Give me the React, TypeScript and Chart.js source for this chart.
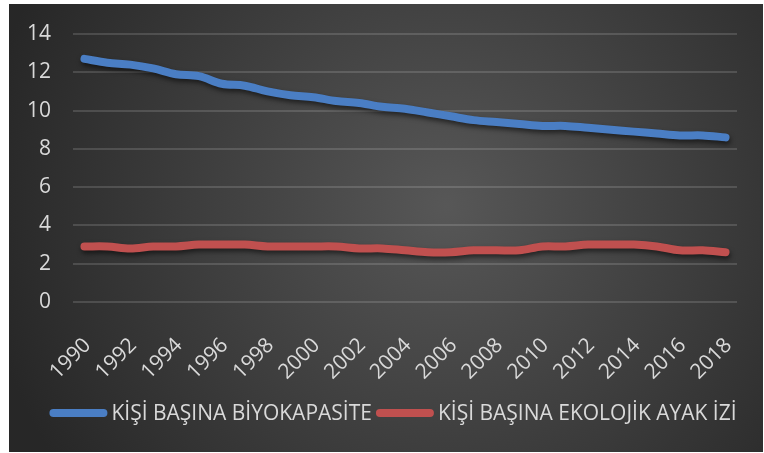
import React, { useEffect, useRef } from "react";
import { Chart, registerables } from "chart.js";

Chart.register(...registerables);

const years = [
  "1990", "1991", "1992", "1993", "1994", "1995", "1996", "1997", "1998", "1999",
  "2000", "2001", "2002", "2003", "2004", "2005", "2006", "2007", "2008", "2009",
  "2010", "2011", "2012", "2013", "2014", "2015", "2016", "2017", "2018",
];

const biocapacity = [
  12.7, 12.5, 12.4, 12.2, 11.9, 11.8, 11.4, 11.3, 11.0, 10.8,
  10.7, 10.5, 10.4, 10.2, 10.1, 9.9, 9.7, 9.5, 9.4, 9.3,
  9.2, 9.2, 9.1, 9.0, 8.9, 8.8, 8.7, 8.7, 8.6,
];

const footprint = [
  2.9, 2.9, 2.8, 2.9, 2.9, 3.0, 3.0, 3.0, 2.9, 2.9,
  2.9, 2.9, 2.8, 2.8, 2.7, 2.6, 2.6, 2.7, 2.7, 2.7,
  2.9, 2.9, 3.0, 3.0, 3.0, 2.9, 2.7, 2.7, 2.6,
];

const seriesNames = ["KİŞİ BAŞINA BİYOKAPASİTE", "KİŞİ BAŞINA EKOLOJİK AYAK İZİ"];
const yTicks = [0, 2, 4, 6, 8, 10, 12, 14];

const FONT = "'Open Sans', 'DejaVu Sans', sans-serif";
const TEXT = "#d9d9d9";

const bgPlugin = {
  id: "bgGradient",
  beforeDraw(chart: any) {
    const { ctx, width, height } = chart;
    const cx = width * 0.58;
    const cy = height * 0.45;
    const g = ctx.createRadialGradient(cx, cy, 0, cx, cy, Math.max(width, height) * 0.62);
    g.addColorStop(0, "#575757");
    g.addColorStop(1, "#272727");
    ctx.save();
    ctx.fillStyle = g;
    ctx.fillRect(0, 0, width, height);
    ctx.restore();
  },
};

const shadowPlugin = {
  id: "lineShadow",
  beforeDatasetDraw(chart: any) {
    const ctx = chart.ctx;
    ctx.save();
    ctx.shadowColor = "rgba(0,0,0,0.55)";
    ctx.shadowBlur = 5;
    ctx.shadowOffsetX = 1;
    ctx.shadowOffsetY = 3;
  },
  afterDatasetDraw(chart: any) {
    chart.ctx.restore();
  },
};

const legendPlugin = {
  id: "customLegend",
  afterDraw(chart: any) {
    const { ctx, width } = chart;
    const y = 409;
    const lineW = 58;
    const gap = 4;
    const itemGap = 4;
    ctx.save();
    ctx.font = `21px ${FONT}`;
    const items = chart.data.datasets.map((ds: any) => ({
      color: ds.borderColor,
      text: ds.label,
      w: lineW + gap + ctx.measureText(ds.label).width,
    }));
    const total = items.reduce((s: number, it: any) => s + it.w, 0) + itemGap * (items.length - 1);
    let x = width / 2 - total / 2 + 7;
    for (const it of items) {
      ctx.strokeStyle = it.color;
      ctx.lineWidth = 8;
      ctx.lineCap = "round";
      ctx.beginPath();
      ctx.moveTo(x + 4, y);
      ctx.lineTo(x + lineW - 4, y);
      ctx.stroke();
      ctx.fillStyle = TEXT;
      ctx.textBaseline = "middle";
      ctx.textAlign = "left";
      ctx.fillText(it.text, x + lineW + gap, y + 1);
      x += it.w + itemGap;
    }
    ctx.restore();
  },
};

export default function App() {
  const ref = useRef<HTMLCanvasElement | null>(null);

  useEffect(() => {
    if (!ref.current) return;
    const chart = new Chart(ref.current, {
      type: "line",
      data: {
        labels: years,
        datasets: [
          {
            label: seriesNames[0],
            data: biocapacity,
            borderColor: "#4a7ec4",
            backgroundColor: "#4a7ec4",
            borderWidth: 8,
            borderCapStyle: "round",
            borderJoinStyle: "round",
            pointRadius: 0,
            tension: 0.35,
          },
          {
            label: seriesNames[1],
            data: footprint,
            borderColor: "#c0504f",
            backgroundColor: "#c0504f",
            borderWidth: 8,
            borderCapStyle: "round",
            borderJoinStyle: "round",
            pointRadius: 0,
            tension: 0.35,
          },
        ],
      },
      options: {
        responsive: false,
        animation: false,
        devicePixelRatio: 1,
        layout: { padding: { top: 30, right: 26, left: 0, bottom: 0 } },
        plugins: {
          legend: { display: false },
          tooltip: { enabled: false },
        },
        scales: {
          x: {
            type: "category",
            offset: true,
            grid: { display: false, drawTicks: false },
            border: { display: false },
            afterFit(scale: any) {
              scale.height = 150;
              scale.paddingLeft = 0;
              scale.paddingRight = 0;
              scale.paddingTop = 0;
              scale.paddingBottom = 0;
            },
            ticks: {
              autoSkip: false,
              maxRotation: 45,
              minRotation: 45,
              padding: 31,
              labelOffset: 3,
              color: TEXT,
              font: { family: FONT, size: 21 },
              callback(_v: any, i: number) {
                return i % 2 === 0 ? years[i] : "";
              },
            },
          },
          y: {
            min: 0,
            max: 14,
            afterBuildTicks(scale: any) {
              scale.ticks = yTicks.map((v) => ({ value: v }));
            },
            afterFit(scale: any) {
              scale.width = 64;
              scale.paddingLeft = 0;
              scale.paddingRight = 0;
              scale.paddingTop = 0;
              scale.paddingBottom = 0;
            },
            grid: {
              color: "rgba(255,255,255,0.14)",
              lineWidth: 2,
              drawTicks: false,
            },
            border: { display: false },
            ticks: {
              padding: 22,
              color: TEXT,
              font: { family: FONT, size: 21 },
            },
          },
        },
      },
      plugins: [bgPlugin, shadowPlugin, legendPlugin],
    } as any);
    return () => chart.destroy();
  }, []);

  return (
    <div style={{ position: "fixed", left: 9, top: 4, width: 754, height: 448 }}>
      <canvas ref={ref} width={754} height={448} />
    </div>
  );
}
